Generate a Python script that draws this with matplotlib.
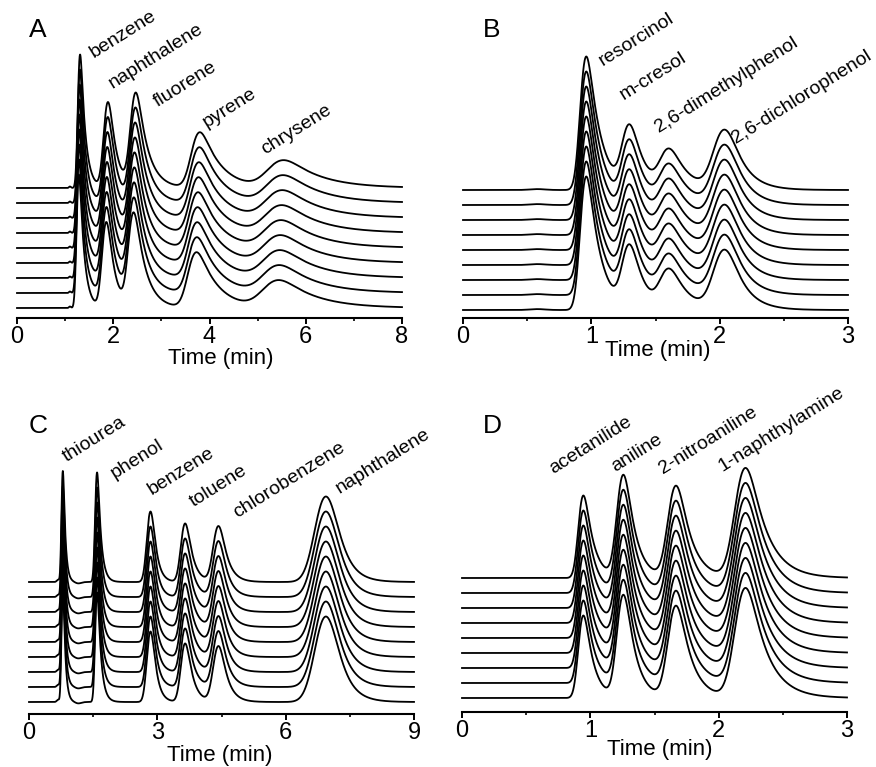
import numpy as np
import matplotlib
matplotlib.use("Agg")
import matplotlib.pyplot as plt
from matplotlib.ticker import MultipleLocator

plt.rcParams['font.family'] = ['Liberation Sans', 'DejaVu Sans']

W, H = 876, 767
SPACING = 15.0  # px between stacked traces
N_TRACES = 9

# ---- peak tables: apex time (min), height (trace-offset units), sigma, tailing tau
A_names = ["benzene", "naphthalene", "fluorene", "pyrene", "chrysene"]
A_apex = [1.31, 1.89, 2.47, 3.80, 5.55]
A_height = [8.9, 5.7, 6.2, 3.7, 1.8]
A_sigma = [0.035, 0.07, 0.085, 0.13, 0.25]
A_tau = [0.10, 0.15, 0.22, 0.40, 0.70]
A_label_x = [1.60, 1.98, 2.93, 3.93, 5.16]
A_label_y = [16.7, 14.6, 13.4, 12.0, 10.2]
A_artifacts = [(1.10, 0.10, 0.02)]
A_rt_scale = [0.982, 0.984, 0.986, 0.988, 0.990, 0.993, 0.995, 0.998, 1.0]

B_names = ["resorcinol", "m-cresol", "2,6-dimethylphenol", "2,6-dichlorophenol"]
B_apex = [0.96, 1.30, 1.61, 2.04]
B_height = [8.9, 4.0, 2.5, 3.9]
B_sigma = [0.035, 0.045, 0.055, 0.07]
B_tau = [0.10, 0.10, 0.13, 0.12]
B_label_x = [1.09, 1.25, 1.53, 2.13]
B_label_y = [16.3, 14.0, 11.8, 11.1]
B_artifacts = [(0.58, 0.06, 0.06)]
B_rt_scale = [1.0] * 9

C_names = ["thiourea", "phenol", "benzene", "toluene", "chlorobenzene", "naphthalene"]
C_apex = [0.79, 1.59, 2.84, 3.65, 4.43, 6.94]
C_height = [7.4, 7.3, 4.7, 3.9, 3.7, 5.7]
C_sigma = [0.025, 0.035, 0.07, 0.08, 0.10, 0.22]
C_tau = [0.05, 0.08, 0.11, 0.15, 0.17, 0.27]
C_label_x = [0.89, 2.00, 2.87, 3.84, 4.86, 7.27]
C_label_y = [16.0, 14.9, 13.8, 13.0, 12.3, 13.9]
C_artifacts = [(0.68, 0.15, 0.03), (1.15, -0.10, 0.07)]
C_rt_scale = [1.0] * 9

D_names = ["acetanilide", "aniline", "2-nitroaniline", "1-naphthylamine"]
D_apex = [0.945, 1.257, 1.668, 2.21]
D_height = [5.5, 6.8, 6.1, 7.3]
D_sigma = [0.03, 0.04, 0.05, 0.065]
D_tau = [0.07, 0.08, 0.10, 0.14]
D_label_x = [0.71, 1.19, 1.57, 2.03]
D_label_y = [14.9, 15.1, 14.9, 15.1]
D_artifacts = []
D_rt_scale = [1.0] * 9


def emg(t, mu, sigma, tau):
    dt = t[1] - t[0]
    g = np.exp(-0.5 * ((t - mu) / sigma) ** 2)
    if tau > 0:
        k = np.exp(-np.arange(0, 10 * tau, dt) / tau)
        g = np.convolve(g, k)[:len(t)]
    return g / g.max()


def peak(t, apex, height, sigma, tau):
    y = emg(t, apex, sigma, tau)
    shift = t[np.argmax(y)] - apex
    return height * emg(t, apex - shift, sigma, tau)


def trace(t, apex, height, sigma, tau, artifacts, scale):
    y = np.zeros_like(t)
    for a, h, s, ta in zip(apex, height, sigma, tau):
        y += peak(t, a * scale, h, s, ta)
    for a, h, s in artifacts:
        y += h * np.exp(-0.5 * ((t - a) / s) ** 2)
    return y


fig = plt.figure(figsize=(W / 100, H / 100), dpi=100)

panels = [
    # letter, x0, x1, axis_y, base_y, top_y, xmax, major, minor, xlabel_x, xlabel_y, data
    ("A", 17, 402, 318, 308, 10, 8, 2, 1, 221, 358,
     (A_names, A_apex, A_height, A_sigma, A_tau, A_label_x, A_label_y, A_artifacts, A_rt_scale), (29, 37)),
    ("B", 463, 848, 318, 310, 10, 3, 1, 0.5, 658, 350,
     (B_names, B_apex, B_height, B_sigma, B_tau, B_label_x, B_label_y, B_artifacts, B_rt_scale), (483, 37)),
    ("C", 29, 414, 714, 702, 400, 9, 3, 1.5, 220, 755,
     (C_names, C_apex, C_height, C_sigma, C_tau, C_label_x, C_label_y, C_artifacts, C_rt_scale), (29, 433)),
    ("D", 462, 847, 712, 698, 400, 3, 1, 0.5, 660, 750,
     (D_names, D_apex, D_height, D_sigma, D_tau, D_label_x, D_label_y, D_artifacts, D_rt_scale), (483, 433)),
]

for (letter, x0, x1, axis_y, base_y, top_y, xmax, major, minor,
     xl_x, xl_y, data, letter_pos) in panels:
    names, apex, height, sigma, tau, lx, ly, artifacts, rt_scale = data
    ax_h = axis_y - top_y
    ax = fig.add_axes([x0 / W, 1 - axis_y / H, (x1 - x0) / W, ax_h / H])

    t = np.arange(0, xmax + 0.001, 0.002)
    for i in range(N_TRACES):
        y = trace(t, apex, height, sigma, tau, artifacts, rt_scale[i])
        ax.plot(t, y + i, color='black', lw=1.3, clip_on=False)

    for name, x, yy in zip(names, lx, ly):
        ax.text(x, yy, name, rotation=32, rotation_mode='anchor',
                ha='left', va='baseline', fontsize=14, clip_on=False)

    ax.set_xlim(0, xmax)
    ax.set_ylim((base_y - axis_y) / SPACING, (base_y - top_y) / SPACING)
    for s in ['left', 'top', 'right']:
        ax.spines[s].set_visible(False)
    ax.spines['bottom'].set_linewidth(1.5)
    ax.set_yticks([])
    ax.xaxis.set_major_locator(MultipleLocator(major))
    ax.xaxis.set_minor_locator(MultipleLocator(minor))
    ax.tick_params(axis='x', which='major', direction='out', length=4,
                   width=1.4, labelsize=17, pad=1.5)
    ax.tick_params(axis='x', which='minor', direction='out', length=2.5, width=1.2)
    ax.set_xlabel("Time (min)", fontsize=16)
    ax.xaxis.set_label_coords((xl_x - x0) / (x1 - x0), -(xl_y - axis_y) / ax_h)
    ax.xaxis.label.set_va('center')
    ax.patch.set_visible(False)

    fig.text(letter_pos[0] / W, 1 - letter_pos[1] / H, letter,
             fontsize=19, ha='left', va='baseline')

fig.savefig("out.png", dpi=100)
